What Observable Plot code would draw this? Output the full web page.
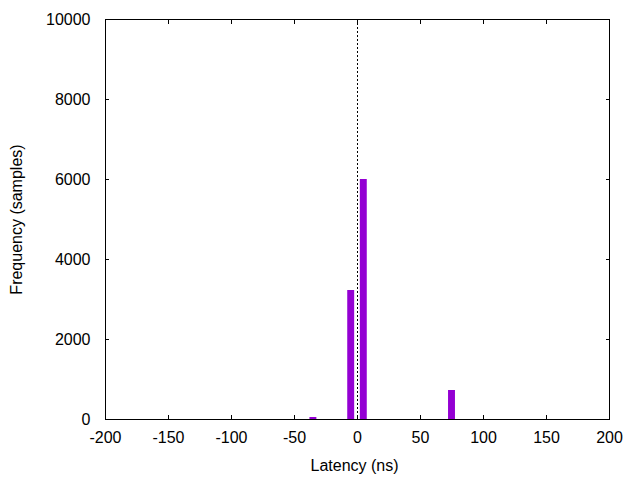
<!DOCTYPE html>
<html>
<head>
<meta charset="utf-8">
<script src="https://cdn.jsdelivr.net/npm/d3@7"></script>
<script src="https://cdn.jsdelivr.net/npm/@observablehq/plot@0.6"></script>
<style>
  html, body { margin: 0; padding: 0; background: #fff; }
</style>
</head>
<body>
<div id="chart"></div>
<script>
const latencies = [-35, -5, 5, 75];
const frequencies = [50, 3225, 6000, 725];
const xTicks = [-200, -150, -100, -50, 0, 50, 100, 150, 200];
const yTicks = [0, 2000, 4000, 6000, 8000, 10000];
const xLabel = "Latency (ns)";
const yLabel = "Frequency (samples)";
const halfBin = 2.75;

const bars = latencies.map((x, i) => ({x1: x - halfBin, x2: x + halfBin, y: frequencies[i]}));
const plain = (d) => String(d);

const chart = Plot.plot({
  width: 640,
  height: 480,
  marginLeft: 105,
  marginRight: 31,
  marginTop: 19,
  marginBottom: 61,
  style: {fontFamily: "'Liberation Sans', Arial, sans-serif", fontSize: "16px", color: "#000", background: "#fff", overflow: "visible"},
  x: {domain: [-200, 200]},
  y: {domain: [0, 10000]},
  marks: [
    Plot.rectY(bars, {x1: "x1", x2: "x2", y: "y", fill: "#9400d3"}),
    Plot.ruleX([0], {stroke: "#000", strokeDasharray: "2,2"}),
    Plot.axisX({ticks: xTicks, anchor: "bottom", tickSize: -4, tickPadding: 16.5, tickFormat: plain, label: null, stroke: "#000", fill: "#000"}),
    Plot.axisX({ticks: xTicks, anchor: "top", tickSize: -4, tickFormat: () => "", label: null, stroke: "#000"}),
    Plot.axisY({ticks: yTicks, anchor: "left", tickSize: -4, tickPadding: 19, tickFormat: plain, label: null, stroke: "#000", fill: "#000"}),
    Plot.axisY({ticks: yTicks, anchor: "right", tickSize: -4, tickFormat: () => "", label: null, stroke: "#000"}),
    Plot.frame({stroke: "#000"}),
    Plot.text([xLabel], {frameAnchor: "bottom", dy: 46, dx: -3, lineAnchor: "middle", textAnchor: "middle", fill: "#000"}),
    Plot.text([yLabel], {frameAnchor: "left", dx: -89, rotate: -90, lineAnchor: "middle", textAnchor: "middle", fill: "#000"})
  ]
});
document.getElementById("chart").appendChild(chart);
</script>
</body>
</html>
